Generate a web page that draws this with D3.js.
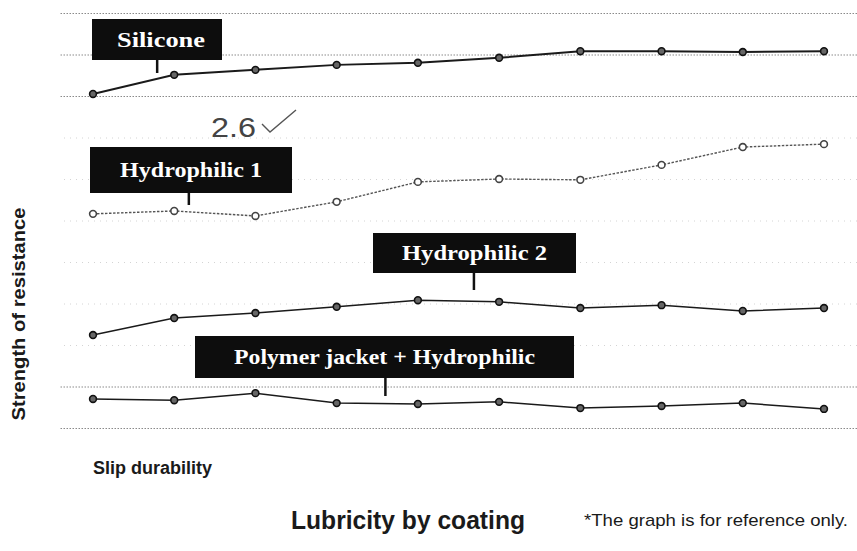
<!DOCTYPE html>
<html>
<head>
<meta charset="utf-8">
<script src="https://cdn.jsdelivr.net/npm/d3@7/dist/d3.min.js"></script>
<style>
  html, body { margin: 0; padding: 0; background: #fff; }
  svg { display: block; }
</style>
</head>
<body>
<svg id="chart" width="857" height="551"></svg>
<script>
// ---- data ----
const steps = [1, 2, 3, 4, 5, 6, 7, 8, 9, 10];
const seriesNames = ["Silicone", "Hydrophilic 1", "Hydrophilic 2", "Polymer jacket + Hydrophilic"];
const silicone     = [8.05, 8.51, 8.63, 8.75, 8.80, 8.92, 9.08, 9.08, 9.06, 9.08];
const hydrophilic1 = [5.16, 5.23, 5.11, 5.45, 5.93, 6.00, 5.98, 6.34, 6.77, 6.84];
const hydrophilic2 = [2.24, 2.65, 2.77, 2.92, 3.08, 3.04, 2.89, 2.96, 2.82, 2.89];
const polymer      = [0.70, 0.67, 0.84, 0.60, 0.58, 0.63, 0.48, 0.53, 0.60, 0.46];
const gridValues   = [0, 1, 2, 3, 4, 5, 6, 7, 8, 9, 10];
const strongGrid   = [0, 1, 8, 9, 10];
const yTitle = "Strength of resistance";
const xTitle = "Slip durability";
const chartTitle = "Lubricity by coating";
const footnote = "*The graph is for reference only.";
const handNote = "2.6";

// ---- layout ----
const svg = d3.select("#chart");
const x = d3.scaleLinear().domain([1, 10]).range([93, 824]);
const y = d3.scaleLinear().domain([0, 10]).range([428, 13]);

// gridlines
const gg = svg.append("g").attr("transform", "translate(857,0)")
  .call(d3.axisRight(y).tickValues(gridValues).tickSize(-797).tickFormat(""));
gg.select(".domain").remove();
gg.selectAll(".tick line")
  .attr("stroke", d => strongGrid.includes(d) ? "#8a8a8a" : "#d4d4d4")
  .attr("stroke-width", 1)
  .attr("stroke-dasharray", d => strongGrid.includes(d) ? "1.5,1.5" : "1,5");

const series = [
  { name: seriesNames[0], values: silicone,     dashed: false, w: 2.0 },
  { name: seriesNames[1], values: hydrophilic1, dashed: true,  w: 1.4 },
  { name: seriesNames[2], values: hydrophilic2, dashed: false, w: 1.5 },
  { name: seriesNames[3], values: polymer,      dashed: false, w: 1.5 }
];

const line = d3.line().x((d, i) => x(steps[i])).y(d => y(d));

series.forEach(s => {
  svg.append("path").datum(s.values)
    .attr("d", line)
    .attr("fill", "none")
    .attr("stroke", s.dashed ? "#555" : "#1a1a1a")
    .attr("stroke-width", s.w)
    .attr("stroke-dasharray", s.dashed ? "2.5,1.5" : null);
  svg.append("g").selectAll("circle").data(s.values).join("circle")
    .attr("cx", (d, i) => x(steps[i]))
    .attr("cy", d => y(d))
    .attr("r", 3.4)
    .attr("fill", s.dashed ? "#fff" : "#666")
    .attr("stroke", s.dashed ? "#444" : "#111")
    .attr("stroke-width", 1.6);
});

// callout labels: pointer position (in step units), box geometry
const callouts = [
  { text: seriesNames[0], at: 1.79, boxL: 92,  boxR: 222, boxT: 19,  boxB: 60,  tip: 73 },
  { text: seriesNames[1], at: 2.18, boxL: 90,  boxR: 292, boxT: 147, boxB: 193, tip: 205 },
  { text: seriesNames[2], at: 5.69, boxL: 373, boxR: 576, boxT: 233, boxB: 273, tip: 290 },
  { text: seriesNames[3], at: 4.60, boxL: 195, boxR: 574, boxT: 336, boxB: 378, tip: 396 }
];
const textWidths = { "Silicone": 88, "Hydrophilic 1": 142, "Hydrophilic 2": 145, "Polymer jacket + Hydrophilic": 301 };

callouts.forEach(c => {
  const px = x(c.at);
  svg.append("line")
    .attr("x1", px).attr("x2", px).attr("y1", c.boxB - 1).attr("y2", c.tip)
    .attr("stroke", "#111").attr("stroke-width", 2.5);
  svg.append("rect")
    .attr("x", c.boxL).attr("y", c.boxT)
    .attr("width", c.boxR - c.boxL).attr("height", c.boxB - c.boxT)
    .attr("fill", "#0d0d0d");
  svg.append("text")
    .attr("x", (c.boxL + c.boxR) / 2 + (c.text === "Silicone" ? 4 : 0))
    .attr("y", (c.boxT + c.boxB) / 2 + 7)
    .attr("text-anchor", "middle")
    .attr("fill", "#fff")
    .attr("font-family", "'Liberation Serif', 'DejaVu Serif', serif")
    .attr("font-weight", "bold")
    .attr("font-size", 22)
    .attr("textLength", textWidths[c.text])
    .attr("lengthAdjust", "spacingAndGlyphs")
    .text(c.text);
});

// handwritten note
svg.append("text")
  .attr("x", 211).attr("y", 137)
  .attr("font-family", "'Liberation Sans', Arial, sans-serif")
  .attr("font-size", 27).attr("fill", "#444")
  .attr("textLength", 45).attr("lengthAdjust", "spacingAndGlyphs")
  .text(handNote);
svg.append("path")
  .attr("d", "M262,124 L270,132 L296,110")
  .attr("fill", "none").attr("stroke", "#555").attr("stroke-width", 1.4);

// axis titles
svg.append("text")
  .attr("transform", "translate(25,314) rotate(-90)")
  .attr("text-anchor", "middle")
  .attr("font-family", "'Liberation Sans', Arial, sans-serif")
  .attr("font-weight", "bold").attr("font-size", 18).attr("fill", "#1a1a1a")
  .attr("textLength", 213).attr("lengthAdjust", "spacingAndGlyphs")
  .text(yTitle);

svg.append("text")
  .attr("x", 93).attr("y", 474)
  .attr("font-family", "'Liberation Sans', Arial, sans-serif")
  .attr("font-weight", "bold").attr("font-size", 18).attr("fill", "#1a1a1a")
  .attr("textLength", 119).attr("lengthAdjust", "spacingAndGlyphs")
  .text(xTitle);

svg.append("text")
  .attr("x", 291).attr("y", 529)
  .attr("font-family", "'Liberation Sans', Arial, sans-serif")
  .attr("font-weight", "bold").attr("font-size", 26).attr("fill", "#1a1a1a")
  .attr("textLength", 234).attr("lengthAdjust", "spacingAndGlyphs")
  .text(chartTitle);

svg.append("text")
  .attr("x", 584).attr("y", 526)
  .attr("font-family", "'Liberation Sans', Arial, sans-serif")
  .attr("font-size", 17).attr("fill", "#1a1a1a")
  .attr("textLength", 264).attr("lengthAdjust", "spacingAndGlyphs")
  .text(footnote);
</script>
</body>
</html>
